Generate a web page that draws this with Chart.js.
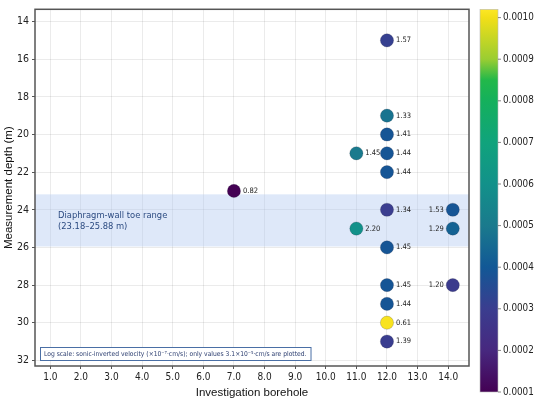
<!DOCTYPE html>
<html>
<head>
<meta charset="utf-8">
<script src="https://cdn.jsdelivr.net/npm/chart.js@4.4.1/dist/chart.umd.min.js"></script>
<style>
  html, body { margin: 0; background: #fff; }
  #wrap { width: 550px; height: 403px; }
</style>
</head>
<body>
<div id="wrap"><canvas id="chart" width="550" height="403"></canvas></div>
<script>
// data
const boreholes  = [12, 12, 12, 11, 12, 12, 7, 12, 14.15, 11, 14.15, 12, 12, 14.15, 12, 12, 12];
const depths     = [15, 19, 20, 21, 21, 22, 23, 24, 24, 25, 25, 26, 28, 28, 29, 30, 31];
const pointTexts = ['1.57', '1.33', '1.41', '1.45', '1.44', '1.44', '0.82', '1.34', '1.53', '2.20', '1.29', '1.45', '1.45', '1.20', '1.44', '0.61', '1.39'];
const velocities = [0.00031, 0.00048, 0.00039, 0.0005, 0.00039, 0.00039, 0.0001, 0.0003, 0.00039, 0.0006, 0.00043, 0.00039, 0.00039, 0.00029, 0.00039, 0.00101, 0.0003];

const xTicks  = [1, 2, 3, 4, 5, 6, 7, 8, 9, 10, 11, 12, 13, 14];
const yTicks  = [14, 16, 18, 20, 22, 24, 26, 28, 30, 32];
const cbTicks = [0.0001, 0.0002, 0.0003, 0.0004, 0.0005, 0.0006, 0.0007, 0.0008, 0.0009, 0.0010];
const cbRange = [0.0001, 0.00102];
const toeRange = [23.18, 25.95];

// colour map of the colour bar
const cmapStops  = [0.0001, 0.0002, 0.0003, 0.0004, 0.0005, 0.0006, 0.0007, 0.0008, 0.00085, 0.0009, 0.0010, 0.00102];
const cmapColors = ['#440154', '#47287f', '#3a3d8f', '#125896', '#1a7a8d', '#12918a', '#10a37c', '#14b05c', '#22b84a', '#9acd32', '#f2df18', '#fde725'];

const TICK_FONT = "'DejaVu Sans Condensed', 'DejaVu Sans', sans-serif";
const TITLE_FONT = "'Liberation Sans', Arial, sans-serif";

function hexToRgb(h) {
    const n = parseInt(h.slice(1), 16);
    return [(n >> 16) & 255, (n >> 8) & 255, n & 255];
}

function colorFor(v) {
    if (v <= cmapStops[0]) return cmapColors[0];
    for (let i = 1; i < cmapStops.length; i++) {
        if (v <= cmapStops[i]) {
            const t = (v - cmapStops[i - 1]) / (cmapStops[i] - cmapStops[i - 1]);
            const a = hexToRgb(cmapColors[i - 1]), b = hexToRgb(cmapColors[i]);
            const c = a.map((x, k) => Math.round(x + (b[k] - x) * t));
            return 'rgb(' + c.join(',') + ')';
        }
    }
    return cmapColors[cmapColors.length - 1];
}

const points = boreholes.map((b, i) => ({ x: b, y: depths[i] }));
const fills = velocities.map(colorFor);

// light blue band for the diaphragm-wall toe
const toeBand = {
    id: 'toeBand',
    beforeDatasetsDraw(chart) {
        const { ctx, chartArea, scales } = chart;
        const y1 = scales.y.getPixelForValue(toeRange[0]);
        const y2 = scales.y.getPixelForValue(toeRange[1]);
        ctx.save();
        ctx.fillStyle = 'rgba(173, 198, 240, 0.4)';
        ctx.fillRect(chartArea.left, y1, chartArea.right - chartArea.left, y2 - y1);
        ctx.fillStyle = '#2b4a80';
        ctx.font = "9.3px " + TICK_FONT;
        ctx.textBaseline = 'middle';
        ctx.fillText('Diaphragm-wall toe range', chartArea.left + 23, y1 + 21);
        ctx.fillText('(23.18\u201325.88 m)', chartArea.left + 23, y1 + 32);
        ctx.restore();
    }
};

// value labels next to the dots
const pointLabels = {
    id: 'pointLabels',
    afterDatasetsDraw(chart) {
        const { ctx } = chart;
        const meta = chart.getDatasetMeta(0);
        ctx.save();
        ctx.font = "7.5px " + TICK_FONT;
        ctx.fillStyle = '#222';
        ctx.textBaseline = 'middle';
        meta.data.forEach((el, i) => {
            if (boreholes[i] > 14) {
                ctx.textAlign = 'right';
                ctx.fillText(pointTexts[i], el.x - 9, el.y);
            } else {
                ctx.textAlign = 'left';
                ctx.fillText(pointTexts[i], el.x + 9, el.y);
            }
        });
        ctx.restore();
    }
};

// frame, note box and colour bar
const decorations = {
    id: 'decorations',
    afterDraw(chart) {
        const { ctx, chartArea } = chart;
        ctx.save();
        ctx.strokeStyle = '#555';
        ctx.lineWidth = 1.5;
        ctx.strokeRect(chartArea.left, chartArea.top, chartArea.right - chartArea.left, chartArea.bottom - chartArea.top);

        // note box
        const note = 'Log scale: sonic-inverted velocity (\u00d710\u207b\u2077\u00b7cm/s); only values 3.1\u00d710\u207b\u2075\u00b7cm/s are plotted.';
        ctx.font = "6.7px " + TICK_FONT;
        const w = ctx.measureText(note).width + 8;
        const bx = chartArea.left + 5, by = chartArea.bottom - 19;
        ctx.fillStyle = '#fff';
        ctx.fillRect(bx, by, w, 13);
        ctx.strokeStyle = '#4a6fa5';
        ctx.lineWidth = 1;
        ctx.strokeRect(bx + 0.5, by + 0.5, w, 13);
        ctx.fillStyle = '#2c3e70';
        ctx.textBaseline = 'middle';
        ctx.fillText(note, bx + 4, by + 7);

        // colour bar
        const cl = chartArea.right + 11, cw = 18;
        const ct = chartArea.top, cb = chartArea.bottom + 26;
        const toY = v => cb - (v - cbRange[0]) / (cbRange[1] - cbRange[0]) * (cb - ct);
        const grad = ctx.createLinearGradient(0, cb, 0, ct);
        cmapStops.forEach((s, i) => {
            grad.addColorStop((s - cbRange[0]) / (cbRange[1] - cbRange[0]), cmapColors[i]);
        });
        ctx.fillStyle = grad;
        ctx.fillRect(cl, ct, cw, cb - ct);
        ctx.strokeStyle = '#bbb';
        ctx.lineWidth = 0.6;
        ctx.strokeRect(cl, ct, cw, cb - ct);
        ctx.strokeStyle = '#333';
        ctx.fillStyle = '#222';
        ctx.font = "9.8px " + TICK_FONT;
        ctx.textAlign = 'left';
        cbTicks.forEach(v => {
            const y = toY(v);
            ctx.beginPath();
            ctx.moveTo(cl + cw, y);
            ctx.lineTo(cl + cw + 3, y);
            ctx.stroke();
            ctx.fillText(v.toFixed(4), cl + cw + 5, y);
        });
        ctx.translate(cl + cw + 61, (ct + cb) / 2);
        ctx.rotate(-Math.PI / 2);
        ctx.textAlign = 'center';
        ctx.font = "9px 'DejaVu Sans', sans-serif";
        ctx.fillText('Sonic-inverted velocity (cm/s)', 0, 0);
        ctx.restore();
    }
};

new Chart(document.getElementById('chart'), {
    type: 'scatter',
    data: {
        datasets: [{
            data: points,
            pointBackgroundColor: fills,
            pointBorderColor: 'rgba(40, 40, 60, 0.35)',
            pointBorderWidth: 0.6,
            pointRadius: 6.6,
            pointHoverRadius: 6.6
        }]
    },
    options: {
        responsive: false,
        animation: false,
        layout: { padding: { top: 7, right: 81, left: 0, bottom: 0 } },
        plugins: {
            legend: { display: false },
            tooltip: { enabled: false }
        },
        scales: {
            x: {
                type: 'linear',
                min: 0.5,
                max: 14.68,
                afterBuildTicks: s => { s.ticks = xTicks.map(v => ({ value: v })); },
                afterFit: s => { s.height = 37; },
                ticks: {
                    callback: v => v.toFixed(1),
                    font: { family: TICK_FONT, size: 10 },
                    color: '#222',
                    padding: 2,
                    maxRotation: 0
                },
                grid: { color: 'rgba(0,0,0,0.08)', tickColor: '#555', tickLength: 3 },
                border: { display: false },
                title: {
                    display: true,
                    text: 'Investigation borehole',
                    font: { family: TITLE_FONT, size: 11.5 },
                    color: '#111',
                    padding: { top: 1, bottom: 3 }
                }
            },
            y: {
                type: 'linear',
                reverse: true,
                min: 13.35,
                max: 32.3,
                afterBuildTicks: s => { s.ticks = yTicks.map(v => ({ value: v })); },
                afterFit: s => { s.width = 35; },
                ticks: {
                    font: { family: TICK_FONT, size: 10.5 },
                    color: '#222',
                    padding: 3
                },
                grid: { color: 'rgba(0,0,0,0.08)', tickColor: '#555', tickLength: 3 },
                border: { display: false },
                title: {
                    display: true,
                    text: 'Measurement depth (m)',
                    font: { family: TITLE_FONT, size: 11.5 },
                    color: '#111',
                    padding: { top: 2, bottom: 2 }
                }
            }
        }
    },
    plugins: [toeBand, pointLabels, decorations]
});
</script>
</body>
</html>
